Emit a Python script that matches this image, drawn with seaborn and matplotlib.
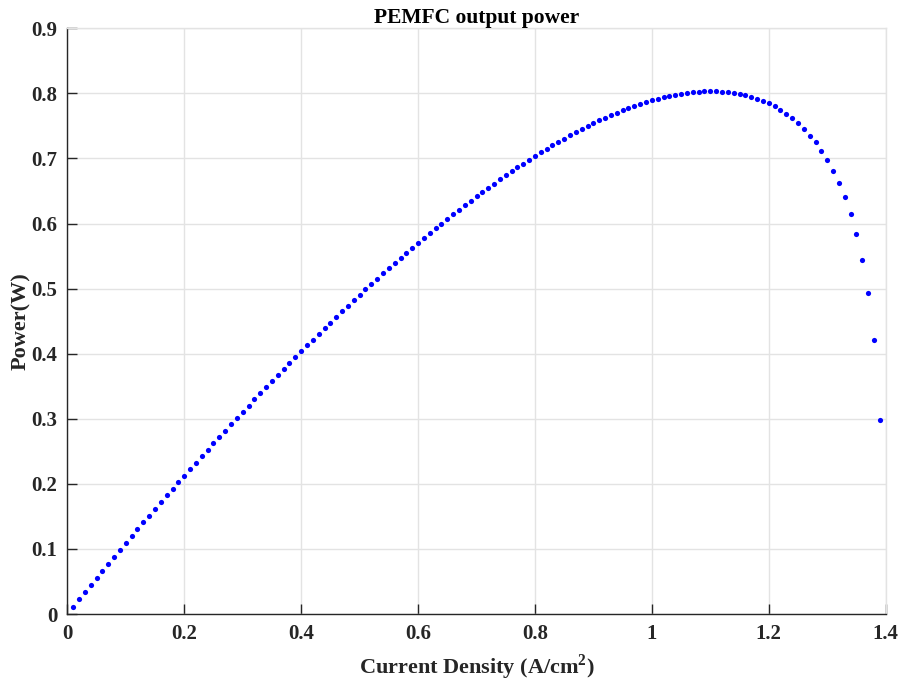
import matplotlib
matplotlib.use("Agg")
import matplotlib.pyplot as plt
import seaborn as sns
import numpy as np
import pandas as pd

# Current density (A/cm^2)
current_density = [round(0.01 * k, 2) for k in range(1, 140)]

# Power (W)
power = [
    0.0113, 0.0225, 0.0333, 0.0446, 0.0553, 0.0661, 0.0768, 0.0876, 0.0983, 0.1091,   # 0.01-0.10
    0.1199, 0.1301, 0.1409, 0.1511, 0.1613, 0.1716, 0.1823, 0.1926, 0.2023, 0.2125,   # 0.11-0.20
    0.2228, 0.2325, 0.2428, 0.2525, 0.2622, 0.2720, 0.2817, 0.2914, 0.3012, 0.3109,   # 0.21-0.30
    0.3201, 0.3299, 0.3391, 0.3483, 0.3575, 0.3672, 0.3760, 0.3852, 0.3946, 0.4038,   # 0.31-0.40
    0.4130, 0.4218, 0.4304, 0.4393, 0.4479, 0.4568, 0.4651, 0.4737, 0.4825, 0.4907,   # 0.41-0.50
    0.4989, 0.5071, 0.5153, 0.5235, 0.5317, 0.5393, 0.5470, 0.5552, 0.5629, 0.5701,   # 0.51-0.60
    0.5778, 0.5854, 0.5926, 0.5998, 0.6070, 0.6141, 0.6213, 0.6279, 0.6351, 0.6418,   # 0.61-0.70
    0.6484, 0.6551, 0.6612, 0.6679, 0.6740, 0.6802, 0.6863, 0.6920, 0.6981, 0.7038,   # 0.71-0.80
    0.7094, 0.7150, 0.7201, 0.7258, 0.7304, 0.7355, 0.7406, 0.7452, 0.7498, 0.7545,   # 0.81-0.90
    0.7585, 0.7626, 0.7667, 0.7703, 0.7739, 0.7775, 0.7806, 0.7836, 0.7867, 0.7893,   # 0.91-1.00
    0.7918, 0.7944, 0.7965, 0.7980, 0.7995, 0.8010, 0.8016, 0.8026, 0.8031, 0.8033,   # 1.01-1.10
    0.8031, 0.8026, 0.8016, 0.8006, 0.7990, 0.7970, 0.7944, 0.7913, 0.7883, 0.7847,   # 1.11-1.20
    0.7801, 0.7744, 0.7688, 0.7621, 0.7545, 0.7452, 0.7352, 0.7246, 0.7119, 0.6976,   # 1.21-1.30
    0.6812, 0.6623, 0.6405, 0.6146, 0.5834, 0.5444, 0.4937, 0.4215, 0.2986,           # 1.31-1.39
]

x_ticks = [0, 0.2, 0.4, 0.6, 0.8, 1.0, 1.2, 1.4]
x_tick_labels = ["0", "0.2", "0.4", "0.6", "0.8", "1", "1.2", "1.4"]
y_ticks = [0, 0.1, 0.2, 0.3, 0.4, 0.5, 0.6, 0.7, 0.8, 0.9]
y_tick_labels = ["0", "0.1", "0.2", "0.3", "0.4", "0.5", "0.6", "0.7", "0.8", "0.9"]

df = pd.DataFrame({"Current Density": current_density, "Power": power})

sns.set_theme(style="white")
plt.rcParams["font.family"] = ["Liberation Serif", "DejaVu Serif"]
plt.rcParams["font.weight"] = "bold"
plt.rcParams["mathtext.fontset"] = "custom"
plt.rcParams["mathtext.rm"] = "Liberation Serif:bold"
plt.rcParams["mathtext.bf"] = "Liberation Serif:bold"

fig = plt.figure(figsize=(9.01, 6.81), dpi=100)
ax = fig.add_axes([67.3 / 901, 1 - 614 / 681, (885.7 - 67.3) / 901, (614 - 28.3) / 681])

sns.scatterplot(data=df, x="Current Density", y="Power", ax=ax,
                color="#0000ff", s=14, linewidth=0, marker="o", zorder=3)

ax.set_xlim(0, 1.4)
ax.set_ylim(0, 0.9)
ax.set_xticks(x_ticks)
ax.set_xticklabels(x_tick_labels)
ax.set_yticks(y_ticks)
ax.set_yticklabels(y_tick_labels)

ax.grid(True, color="#e3e3e3", linewidth=1.0, zorder=0)
ax.set_axisbelow(True)

for side in ["top", "right"]:
    ax.spines[side].set_color("#e3e3e3")
    ax.spines[side].set_linewidth(1.0)
for side in ["left", "bottom"]:
    ax.spines[side].set_color("#262626")
    ax.spines[side].set_linewidth(1.0)

ax.tick_params(axis="both", direction="in", length=7, width=1.0, color="#262626",
               labelsize=15, labelcolor="#262626", pad=7, bottom=True, left=True,
               top=False, right=False)
for lbl in ax.get_xticklabels() + ax.get_yticklabels():
    lbl.set_fontweight("bold")

ax.set_title("PEMFC output power", fontsize=15.5, fontweight="bold", color="#000000", pad=4)
ax.set_xlabel(r"Current Density (A/cm$^{\mathbf{2}}$)", fontsize=16, fontweight="bold",
              color="#262626", labelpad=6)
ax.set_ylabel("Power(W)", fontsize=16, fontweight="bold", color="#262626", labelpad=0)

fig.savefig("out.png", dpi=100)
